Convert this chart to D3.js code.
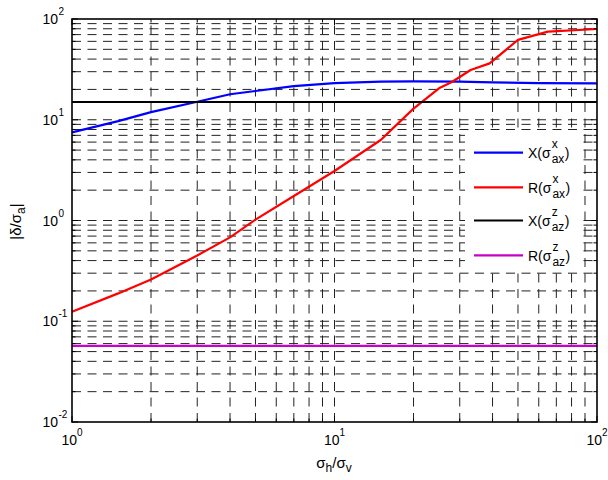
<!DOCTYPE html>
<html><head><meta charset="utf-8">
<script src="https://cdn.jsdelivr.net/npm/d3@7"></script>
<style>
body{margin:0;background:#fff}
svg{display:block}
text{font-family:Arial,"Liberation Sans",Helvetica,sans-serif;fill:#000}
</style>
</head><body>
<svg id="c" width="608" height="480"></svg>
<script>
// ---- data ----
const xBlue = [1, 1.5, 2, 3, 4, 5, 7, 10, 15, 20, 30, 40, 60, 100];
const yBlue = [7.5, 9.7, 11.9, 15.1, 17.9, 19.3, 21.6, 23.1, 23.9, 24.0, 23.9, 23.5, 23.1, 23.0];
const xRed = [1, 1.5, 2, 3, 4, 5, 7, 10, 15, 20, 25, 28, 33, 39, 50, 65, 100];
const yRed = [0.124, 0.189, 0.26, 0.45, 0.68, 1.02, 1.75, 3.1, 6.3, 12.9, 20.5, 23.7, 31.2, 36.3, 62, 75, 79.6];
const xBlack = [1, 100];
const yBlack = [15, 15];
const xMag = [1, 100];
const yMag = [0.057, 0.057];
const xTickExp = [0, 1, 2];
const yTickExp = [-2, -1, 0, 1, 2];
const seriesNames = ["X", "R", "X", "R"];
const seriesSup = ["x", "x", "z", "z"];
const seriesSub = ["ax", "ax", "az", "az"];
const seriesColors = ["#0000ff", "#ff0000", "#000000", "#c800c8"];

// ---- layout ----
const L = 72, R = 597, T = 19, B = 422;
const svg = d3.select("#c");
const x = d3.scaleLog().domain([1, 100]).range([L, R]);
const y = d3.scaleLog().domain([0.01, 100]).range([B, T]);

function logTicks(lo, hi) {
  const major = [], minor = [];
  for (let e = lo; e <= hi; e++) {
    major.push(Math.pow(10, e));
    if (e < hi) for (let k = 2; k <= 9; k++) minor.push(k * Math.pow(10, e));
  }
  return {major, minor};
}
const xt = logTicks(0, 2), yt = logTicks(-2, 2);

// grid
const grid = svg.append("g").attr("stroke", "#222").attr("stroke-width", 1)
  .attr("stroke-dasharray", "9,6.5").attr("fill", "none");
xt.major.concat(xt.minor).forEach(v => {
  if (v <= 1 || v >= 100) return;
  grid.append("line").attr("x1", x(v)).attr("x2", x(v)).attr("y1", B).attr("y2", T);
});
yt.major.concat(yt.minor).forEach(v => {
  if (v <= 0.01 || v >= 100) return;
  grid.append("line").attr("y1", y(v)).attr("y2", y(v)).attr("x1", L).attr("x2", R);
});

// series
const line = d3.line().x(d => x(d[0])).y(d => y(d[1]));
const series = [
  [xBlue, yBlue], [xRed, yRed], [xBlack, yBlack], [xMag, yMag]
];
series.forEach((s, i) => {
  const pts = s[0].map((v, j) => [v, s[1][j]]);
  svg.append("path").attr("d", line(pts)).attr("fill", "none")
    .attr("stroke", seriesColors[i]).attr("stroke-width", 2.2)
    .attr("stroke-linejoin", "round");
});

// ticks (inward, all four sides)
const tk = svg.append("g").attr("stroke", "#000").attr("stroke-width", 1);
xt.major.forEach(v => {
  tk.append("line").attr("x1", x(v)).attr("x2", x(v)).attr("y1", B).attr("y2", B - 6);
  tk.append("line").attr("x1", x(v)).attr("x2", x(v)).attr("y1", T).attr("y2", T + 6);
});
xt.minor.forEach(v => {
  tk.append("line").attr("x1", x(v)).attr("x2", x(v)).attr("y1", B).attr("y2", B - 3.5);
  tk.append("line").attr("x1", x(v)).attr("x2", x(v)).attr("y1", T).attr("y2", T + 3.5);
});
yt.major.forEach(v => {
  tk.append("line").attr("y1", y(v)).attr("y2", y(v)).attr("x1", L).attr("x2", L + 6);
  tk.append("line").attr("y1", y(v)).attr("y2", y(v)).attr("x1", R).attr("x2", R - 6);
});
yt.minor.forEach(v => {
  tk.append("line").attr("y1", y(v)).attr("y2", y(v)).attr("x1", L).attr("x2", L + 3.5);
  tk.append("line").attr("y1", y(v)).attr("y2", y(v)).attr("x1", R).attr("x2", R - 3.5);
});

// box
svg.append("rect").attr("x", L).attr("y", T).attr("width", R - L).attr("height", B - T)
  .attr("fill", "none").attr("stroke", "#000").attr("stroke-width", 1.6);

// tick labels
xTickExp.forEach(e => {
  const t = svg.append("text").attr("x", x(Math.pow(10, e))).attr("y", 445)
    .attr("text-anchor", "middle").attr("font-size", 14);
  t.append("tspan").text("10");
  t.append("tspan").attr("dy", -9).attr("font-size", 10).text(String(e));
});
yTickExp.forEach(e => {
  const yy = y(Math.pow(10, e)) + 5;
  svg.append("text").attr("x", 58).attr("y", yy).attr("text-anchor", "end")
    .attr("font-size", 14).text("10");
  svg.append("text").attr("x", 58.5).attr("y", yy - 9).attr("text-anchor", "start")
    .attr("font-size", 10).text(e < 0 ? "-" + Math.abs(e) : String(e));
});

// axis labels
const xl = svg.append("text").attr("x", 334).attr("y", 468).attr("text-anchor", "middle")
  .attr("font-size", 15);
xl.append("tspan").text("σ");
xl.append("tspan").attr("dy", 4).attr("font-size", 12).text("h");
xl.append("tspan").attr("dy", -4).text("/σ");
xl.append("tspan").attr("dy", 4).attr("font-size", 12).text("v");

const yl = svg.append("text").attr("transform", "translate(21,221.5) rotate(-90)")
  .attr("text-anchor", "middle").attr("font-size", 15);
yl.append("tspan").text("|δ/σ");
yl.append("tspan").attr("dy", 4).attr("font-size", 12).text("a");
yl.append("tspan").attr("dy", -4).text("|");

// legend
const lg = svg.append("g");
lg.append("rect").attr("x", 465).attr("y", 134).attr("width", 116).attr("height", 138)
  .attr("fill", "#fff");
const legY = [152.7, 187.3, 220.5, 255.3];
seriesNames.forEach((nm, i) => {
  const ly = legY[i];
  lg.append("line").attr("x1", 474).attr("x2", 523).attr("y1", ly).attr("y2", ly)
    .attr("stroke", seriesColors[i]).attr("stroke-width", 2.2);
  const main = lg.append("text").attr("x", 528).attr("y", ly + 5.3).attr("font-size", 14)
    .text(nm + "(σ");
  const w = main.node().getComputedTextLength();
  const sx = 528 + w + 1;
  const sp = lg.append("text").attr("x", sx).attr("y", ly - 4.5).attr("font-size", 12)
    .text(seriesSup[i]);
  const sb = lg.append("text").attr("x", sx).attr("y", ly + 10.5).attr("font-size", 12)
    .text(seriesSub[i]);
  const w2 = Math.max(sp.node().getComputedTextLength(), sb.node().getComputedTextLength());
  lg.append("text").attr("x", sx + w2 + 0.5).attr("y", ly + 5.3).attr("font-size", 14).text(")");
});
</script>
</body></html>
